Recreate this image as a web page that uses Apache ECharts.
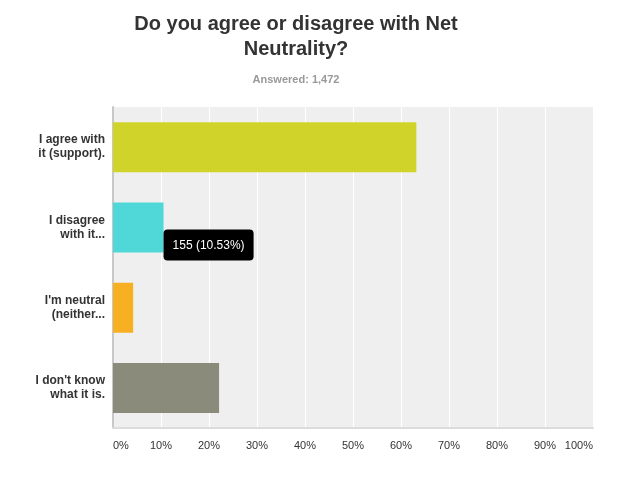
<!DOCTYPE html>
<html>
<head>
<meta charset="utf-8">
<script src="https://cdn.jsdelivr.net/npm/echarts@6/dist/echarts.min.js"></script>
<style>html,body{margin:0;padding:0;background:#fff}#c{width:620px;height:480px}</style>
</head>
<body>
<div id="c"></div>
<script>
var categories = ["I agree with\nit (support).", "I disagree\nwith it...", "I'm neutral\n(neither...", "I don't know\nwhat it is."];
var percents = [63.2, 10.53, 4.2, 22.1];
var counts = [930, 155, 62, 325];
var colors = ["#d0d42a", "#50d8d8", "#f7b022", "#8b8b7b"];
var xTicks = [0, 10, 20, 30, 40, 50, 60, 70, 80, 90, 100];
var tooltipIndex = 1;

var chart = echarts.init(document.getElementById('c'), null, {renderer: 'canvas'});
var data = percents.map(function (v, i) {
  var item = {value: v, itemStyle: {color: colors[i]}};
  if (i === tooltipIndex) {
    item.label = {
      show: true,
      position: ['100%', 27],
      align: 'left',
      verticalAlign: 'top',
      formatter: counts[i] + ' (' + percents[i].toFixed(2) + '%)',
      color: '#fff',
      backgroundColor: '#000',
      borderRadius: 4,
      padding: [9, 9, 8, 9],
      fontFamily: 'Arial, Liberation Sans, sans-serif',
      fontSize: 12,
      lineHeight: 14
    };
  }
  return item;
});
chart.setOption({
  animation: false,
  title: {
    text: 'Do you agree or disagree with Net\nNeutrality?',
    subtext: 'Answered: 1,472',
    left: 291,
    textAlign: 'center',
    top: 7,
    itemGap: 12,
    textStyle: {fontFamily: 'Arial, Liberation Sans, sans-serif', fontSize: 20, fontWeight: 'bold', color: '#333', lineHeight: 25},
    subtextStyle: {fontFamily: 'Arial, Liberation Sans, sans-serif', fontSize: 11, fontWeight: 'bold', color: '#999'}
  },
  grid: {left: 113, right: 27, top: 107, bottom: 52, show: true, backgroundColor: '#efefef', borderWidth: 0},
  xAxis: {
    type: 'value', min: 0, max: 100, interval: 10,
    axisLine: {show: true, lineStyle: {color: '#dcdcdc', width: 2}},
    axisTick: {show: false},
    splitLine: {show: true, lineStyle: {color: '#ffffff', width: 1}},
    axisLabel: {
      formatter: '{value}%', color: '#333', fontSize: 11,
      fontFamily: 'Arial, Liberation Sans, sans-serif', margin: 12,
      alignMinLabel: 'left', alignMaxLabel: 'right'
    }
  },
  yAxis: {
    type: 'category', data: categories, inverse: true,
    axisLine: {show: true, lineStyle: {color: '#c8c8c8', width: 2}},
    axisTick: {show: false},
    axisLabel: {color: '#333', fontSize: 12, fontWeight: 'bold', lineHeight: 14, margin: 8,
      fontFamily: 'Arial, Liberation Sans, sans-serif'}
  },
  series: [{
    type: 'bar', data: data, barWidth: 50, z: 3
  }]
});
</script>
</body>
</html>
